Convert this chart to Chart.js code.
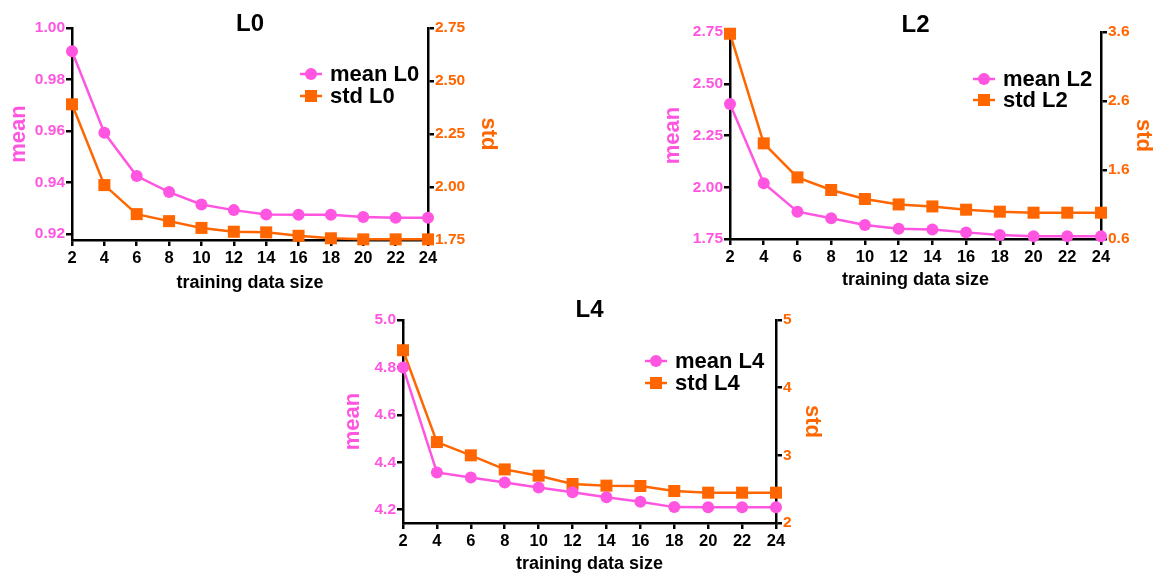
<!DOCTYPE html>
<html>
<head>
<meta charset="utf-8">
<script src="https://cdn.jsdelivr.net/npm/chart.js@4.4.0/dist/chart.umd.min.js"></script>
<style>
  html, body { margin: 0; padding: 0; background: #fff; }
  body { width: 1173px; height: 576px; position: relative; overflow: hidden; }
  canvas { position: absolute; }
</style>
</head>
<body>
<canvas id="l0" width="510" height="300" style="left:0px;top:0px"></canvas>
<canvas id="l2" width="510" height="300" style="left:655px;top:0px"></canvas>
<canvas id="l4" width="520" height="296" style="left:330px;top:280px"></canvas>
<script>
const PINK = '#FF55E0';
const ORANGE = '#FF6600';
const FONT = "'Liberation Sans', Arial, Helvetica, sans-serif";

// training data size
const sizes = [2, 4, 6, 8, 10, 12, 14, 16, 18, 20, 22, 24];

const meanL0 = [0.991, 0.9593, 0.9425, 0.9363, 0.9315, 0.9293, 0.9276, 0.9275, 0.9275, 0.9266, 0.9263, 0.9263];
const stdL0  = [2.390, 2.009, 1.872, 1.839, 1.807, 1.789, 1.786, 1.770, 1.758, 1.753, 1.753, 1.753];

const meanL2 = [2.402, 2.019, 1.882, 1.850, 1.818, 1.800, 1.796, 1.782, 1.769, 1.763, 1.763, 1.763];
const stdL2  = [3.575, 1.986, 1.493, 1.310, 1.180, 1.101, 1.072, 1.025, 0.996, 0.981, 0.981, 0.981];

const meanL4 = [4.800, 4.357, 4.336, 4.315, 4.294, 4.274, 4.253, 4.234, 4.211, 4.210, 4.210, 4.210];
const stdL4  = [4.553, 3.196, 3.000, 2.792, 2.699, 2.576, 2.552, 2.547, 2.473, 2.448, 2.448, 2.448];

// tick labels
const xTicks = [2, 4, 6, 8, 10, 12, 14, 16, 18, 20, 22, 24];
const meanTicksL0 = [0.92, 0.94, 0.96, 0.98, 1.00];
const stdTicksL0  = [1.75, 2.00, 2.25, 2.50, 2.75];
const meanTicksL2 = [1.75, 2.00, 2.25, 2.50, 2.75];
const stdTicksL2  = [0.6, 1.6, 2.6, 3.6];
const meanTicksL4 = [4.2, 4.4, 4.6, 4.8, 5.0];
const stdTicksL4  = [2, 3, 4, 5];

// legend drawn inside the plot, top right
const insideLegend = {
  id: 'insideLegend',
  afterDatasetsDraw(chart, args, opts) {
    const {ctx, chartArea} = chart;
    const x0 = chartArea.right - opts.right;
    let y = chartArea.top + opts.top;
    chart.data.datasets.forEach(ds => {
      ctx.save();
      ctx.strokeStyle = ds.borderColor;
      ctx.lineWidth = ds.borderWidth;
      ctx.beginPath();
      ctx.moveTo(x0, y);
      ctx.lineTo(x0 + 22, y);
      ctx.stroke();
      ctx.fillStyle = ds.backgroundColor;
      ctx.beginPath();
      if (ds.pointStyle === 'rect') {
        const s = ds.pointRadius * Math.SQRT1_2;
        ctx.rect(x0 + 11 - s, y - s, 2 * s, 2 * s);
      } else {
        ctx.arc(x0 + 11, y, ds.pointRadius, 0, Math.PI * 2);
      }
      ctx.fill();
      ctx.fillStyle = '#000';
      ctx.font = 'bold 22px ' + FONT;
      ctx.textBaseline = 'middle';
      ctx.textAlign = 'left';
      ctx.fillText(ds.label, x0 + 30, y + 1);
      ctx.restore();
      y += opts.gap;
    });
  }
};

function pts(ys) {
  return sizes.map((s, i) => ({x: s, y: ys[i]}));
}

function makeChart(id, cfg) {
  const axisGrid = {drawOnChartArea: false, drawTicks: true, tickLength: 6, color: '#000', lineWidth: 2.5};
  const axisBorder = {display: true, color: '#000', width: 2.5};
  return new Chart(document.getElementById(id), {
    type: 'line',
    data: {
      datasets: [
        {
          label: 'mean ' + cfg.name,
          data: pts(cfg.mean),
          yAxisID: 'y',
          borderColor: PINK,
          backgroundColor: PINK,
          borderWidth: 2.5,
          pointStyle: 'circle',
          pointRadius: 6,
          pointBorderWidth: 0,
          clip: false
        },
        {
          label: 'std ' + cfg.name,
          data: pts(cfg.std),
          yAxisID: 'y1',
          borderColor: ORANGE,
          backgroundColor: ORANGE,
          borderWidth: 2.5,
          pointStyle: 'rect',
          pointRadius: 8.5,
          pointBorderWidth: 0,
          clip: false
        }
      ]
    },
    options: {
      responsive: false,
      animation: false,
      devicePixelRatio: 1,
      layout: {padding: 0},
      plugins: {
        legend: {display: false},
        tooltip: {enabled: false},
        title: {
          display: true,
          text: cfg.name,
          color: '#000',
          fullSize: false,
          font: {family: FONT, size: 24, weight: 'bold'},
          padding: cfg.titlePad
        },
        insideLegend: cfg.legend
      },
      scales: {
        x: {
          type: 'linear',
          min: 2,
          max: 24,
          grid: axisGrid,
          border: axisBorder,
          afterBuildTicks: s => { s.ticks = xTicks.map(v => ({value: v})); },
          afterFit: s => { s.height = cfg.xH; },
          ticks: {
            color: '#000',
            padding: 3,
            maxRotation: 0,
            font: {family: FONT, size: 16.5, weight: 'bold'}
          },
          title: {
            display: true,
            text: 'training data size',
            color: '#000',
            font: {family: FONT, size: 18, weight: 'bold'},
            padding: {top: 0, bottom: cfg.xTitlePad}
          }
        },
        y: {
          position: 'left',
          min: cfg.meanRange[0],
          max: cfg.meanRange[1],
          grid: axisGrid,
          border: axisBorder,
          afterBuildTicks: s => { s.ticks = cfg.meanTicks.map(v => ({value: v})); },
          afterFit: s => { s.width = cfg.leftW; },
          ticks: {
            color: PINK,
            padding: 1,
            font: {family: FONT, size: 15.5, weight: 'bold'},
            callback: v => v.toFixed(cfg.meanDec)
          },
          title: {
            display: true,
            text: 'mean',
            color: PINK,
            font: {family: FONT, size: 22, weight: 'bold'},
            padding: {top: cfg.leftTitlePad, bottom: 0}
          }
        },
        y1: {
          position: 'right',
          min: cfg.stdRange[0],
          max: cfg.stdRange[1],
          grid: axisGrid,
          border: axisBorder,
          afterBuildTicks: s => { s.ticks = cfg.stdTicks.map(v => ({value: v})); },
          afterFit: s => { s.width = cfg.rightW; },
          ticks: {
            color: ORANGE,
            padding: 1,
            font: {family: FONT, size: 15.5, weight: 'bold'},
            callback: v => v.toFixed(cfg.stdDec)
          },
          title: {
            display: true,
            text: 'std',
            color: ORANGE,
            font: {family: FONT, size: 22, weight: 'bold'},
            padding: {top: cfg.rightTitlePad, bottom: 0}
          }
        }
      }
    },
    plugins: [insideLegend]
  });
}

makeChart('l0', {
  name: 'L0', mean: meanL0, std: stdL0,
  meanTicks: meanTicksL0, stdTicks: stdTicksL0,
  meanRange: [0.9177, 1.00], stdRange: [1.75, 2.75],
  meanDec: 2, stdDec: 2,
  leftW: 72, rightW: 82, xH: 60,
  titlePad: {top: 9.6, bottom: -10.4},
  leftTitlePad: 5.8, rightTitlePad: 8.8, xTitlePad: 6.2,
  legend: {right: 128, top: 46, gap: 22}
});

makeChart('l2', {
  name: 'L2', mean: meanL2, std: stdL2,
  meanTicks: meanTicksL2, stdTicks: stdTicksL2,
  meanRange: [1.75, 2.75], stdRange: [0.6, 3.6],
  meanDec: 2, stdDec: 1,
  leftW: 75, rightW: 64, xH: 61,
  titlePad: {top: 10.6, bottom: -7.4},
  leftTitlePad: 4.8, rightTitlePad: 8.8, xTitlePad: 9.2,
  legend: {right: 128, top: 47, gap: 21}
});

makeChart('l4', {
  name: 'L4', mean: meanL4, std: stdL4,
  meanTicks: meanTicksL4, stdTicks: stdTicksL4,
  meanRange: [4.144, 5.0], stdRange: [2, 5],
  meanDec: 1, stdDec: 0,
  leftW: 73, rightW: 74, xH: 53,
  titlePad: {top: 15.6, bottom: -4.4},
  leftTitlePad: 9.8, rightTitlePad: 24.8, xTitlePad: 1.2,
  legend: {right: 131, top: 41, gap: 22}
});
</script>
</body>
</html>
